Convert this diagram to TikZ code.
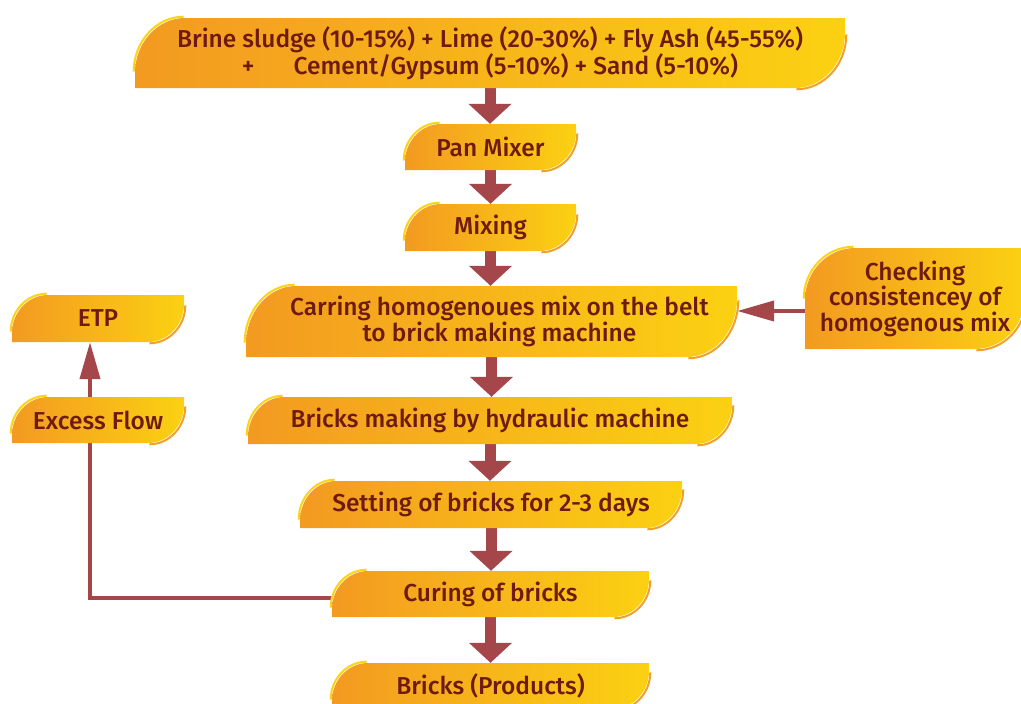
\documentclass[tikz,border=0pt]{standalone}
\usepackage{fontspec}
\newfontfamily\boxfont{Fira Sans Medium}
\usetikzlibrary{arrows.meta,calc}
\definecolor{leafL}{HTML}{F39A21}
\definecolor{leafR}{HTML}{FBD112}
\definecolor{leafHi}{HTML}{FDD414}
\definecolor{leafLo}{HTML}{F0A02C}
\definecolor{ink}{HTML}{6E1A0F}
\definecolor{flow}{HTML}{A4464A}
\pgfdeclarelayer{links}
\pgfdeclarelayer{plates}
\pgfsetlayers{links,plates,main}
\tikzset{
  boxtext/.style={text=ink, inner sep=0pt, align=center,
    font=\boxfont\fontsize{24.5}{25.5}\selectfont},
  bigflow/.style={draw=flow, line width=11pt, -{Triangle[width=42pt,length=20pt]}},
  thinflow/.style={draw=flow, line width=4pt, line join=miter,
    -{Triangle[width=20pt,length=37pt]}},
}
% leaf-shaped plate: rounded top-left and bottom-right corners
% #1 name, #2 x1, #3 y1, #4 x2, #5 y2, #6 rx, #7 ry, #8 text
\newcommand\leafbox[8]{%
  \begin{pgfonlayer}{plates}
    \begin{scope}[shift={(-1.3,-1.3)}]
      \draw[leafHi, line width=2pt] (#2,#3+#7) .. controls (#2,#3+0.45*#7) and (#2+0.45*#6,#3) .. (#2+#6,#3);
    \end{scope}
    \begin{scope}[shift={(1.3,1.3)}]
      \draw[leafLo, line width=2pt] (#4,#5-#7) .. controls (#4,#5-0.45*#7) and (#4-0.45*#6,#5) .. (#4-#6,#5);
    \end{scope}
    \shade[left color=leafL, right color=leafR]
      (#2,#5) -- (#2,#3+#7) .. controls (#2,#3+0.45*#7) and (#2+0.45*#6,#3) .. (#2+#6,#3)
      -- (#4,#3) -- (#4,#5-#7) .. controls (#4,#5-0.45*#7) and (#4-0.45*#6,#5) .. (#4-#6,#5) -- cycle;
  \end{pgfonlayer}
  \node[boxtext, minimum width=#4-#2, minimum height=#5-#3] (#1) at ({(#2+#4)/2},{(#3+#5)/2}) {#8};
}
\begin{document}
\begin{tikzpicture}[x=1pt,y=-1pt]
\useasboundingbox (0,0) rectangle (1021,704);
\begin{pgfonlayer}{links}
  \fill[white] (0,0) rectangle (1021,704);
\end{pgfonlayer}

\leafbox{top}{135}{18}{845}{88}{50}{55}{Brine sludge (10-15\%) + Lime (20-30\%) + Fly Ash (45-55\%)\\+\hspace{1.6em}Cement/Gypsum (5-10\%) + Sand (5-10\%)}
\leafbox{pan}{405}{124}{576}{170}{36}{38}{Pan Mixer}
\leafbox{mix}{405}{204}{576}{251}{36}{38}{Mixing}
\leafbox{carry}{246}{286}{737}{357}{50}{58}{\hspace*{16pt}Carring homogenoues mix on the belt\\\hspace*{16pt}to brick making machine}
\leafbox{check}{805}{248}{1025}{349}{50}{52}{Checking\\consistencey of\\homogenous mix}
\leafbox{etp}{12}{295}{184}{342}{36}{38}{ETP}
\leafbox{excess}{12}{397}{184}{443}{36}{38}{Excess Flow}
\leafbox{press}{248}{397}{732}{444}{36}{40}{Bricks making by hydraulic machine}
\leafbox{set}{300}{481}{682}{528}{36}{40}{Setting of bricks for 2-3 days}
\leafbox{cure}{332}{571}{649}{617}{36}{38}{Curing of bricks}
\leafbox{prod}{332}{663}{649}{709}{36}{38}{Bricks (Products)}

\coordinate (loopx) at (90,598);

\begin{pgfonlayer}{links}
  \foreach \a/\b in {top/pan, pan/mix, mix/carry, carry/press, press/set, set/cure, cure/prod}
    \draw[bigflow] (\a.south) -- (\a.south |- \b.north);
  \draw[thinflow] ([yshift=-12.5pt]check.west) -- ([yshift=-12.5pt]check.west -| carry.east);
  \draw[thinflow] (cure.west |- loopx) -- (loopx) -- (loopx |- etp.south);
\end{pgfonlayer}
\end{tikzpicture}
\end{document}
